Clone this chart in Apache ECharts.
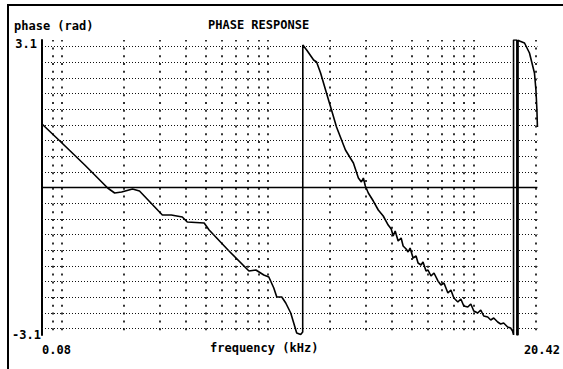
<!DOCTYPE html>
<html>
<head>
<meta charset="utf-8">
<script src="https://cdn.jsdelivr.net/npm/echarts@6/dist/echarts.min.js"></script>
<style>
  html, body { margin: 0; padding: 0; background: #fff; }
  #chart { width: 563px; height: 369px; }
</style>
</head>
<body>
<div id="chart"></div>
<script>
// ---- data ----
const chartTitle = 'PHASE RESPONSE';
const yAxisTitle = 'phase (rad)';
const xAxisTitle = 'frequency (kHz)';

const xMin = 0.08, xMax = 20.42;          // kHz
const yMin = -Math.PI, yMax = Math.PI;    // rad
const xTickLabels = ['0.08', '20.42'];
const yTickLabels = ['-3.1', '3.1'];

// vertical (log) grid lines, kHz
const freqGrid = [0.09, 0.1, 0.2, 0.3, 0.4, 0.5, 0.6, 0.7, 0.8, 0.9,
                  1, 2, 3, 4, 5, 6, 7, 8, 9, 10, 20];
// horizontal grid lines, rad (steps of 1/3 rad)
const phaseGrid = [-3, -2.667, -2.333, -2, -1.667, -1.333, -1, -0.667, -0.333,
                   0.333, 0.667, 1, 1.333, 1.667, 2, 2.333, 2.667, 3];

const freqKHz = [
  0.08, 0.0977, 0.1291, 0.1668, 0.1803, 0.1949, 0.2203, 0.2381, 0.3075, 0.340,
  0.3843, 0.4062, 0.4908, 0.5189, 0.648, 0.8099, 0.8754, 0.9566, 1.0117, 1.0696,
  1.1059, 1.1694, 1.2226, 1.2927, 1.3366, 1.3819, 1.4448, 1.478, 1.480, 1.545,
  1.670, 1.726, 1.805, 1.973, 2.040, 2.157, 2.384, 2.606, 2.755, 2.849,
  2.913, 2.978, 3.079, 3.256, 3.442, 3.638, 3.846, 3.978, 4.066, 4.158,
  4.299, 4.445, 4.545, 4.700, 4.806, 4.914, 5.080, 5.253, 5.371, 5.554,
  5.678, 5.871, 6.003, 6.207, 6.418, 6.710, 6.940, 7.176, 7.501, 7.755,
  8.018, 8.384, 8.666, 8.962, 9.37, 9.689, 10.02, 10.47, 10.83, 11.20,
  11.71, 12.11, 12.52, 13.09, 13.53, 13.99, 14.63, 15.12, 15.46, 15.63,
  15.63, 16.22, 16.22, 16.44, 16.44, 16.71, 17.67, 18.68, 19.75, 20.08,
  20.30, 20.42
];
const phaseRad = [
  1.352, 0.990, 0.479, -0.011, -0.117, -0.096, -0.032, -0.075, -0.586, -0.586,
  -0.628, -0.735, -0.756, -0.905, -1.352, -1.778, -1.757, -1.864, -1.906, -2.141,
  -2.332, -2.332, -2.460, -2.673, -2.886, -3.099, -3.130, -3.078, 3.035, 2.929,
  2.716, 2.673, 2.439, 1.864, 1.651, 1.289, 0.799, 0.522, 0.202, 0.117,
  0.202, 0.032, -0.117, -0.288, -0.479, -0.607, -0.799, -0.884, -1.033, -0.927,
  -1.140, -1.076, -1.246, -1.310, -1.374, -1.289, -1.502, -1.459, -1.608, -1.651,
  -1.587, -1.778, -1.757, -1.885, -1.821, -1.991, -2.077, -2.034, -2.247, -2.183,
  -2.354, -2.439, -2.375, -2.524, -2.545, -2.481, -2.630, -2.673, -2.609, -2.737,
  -2.758, -2.822, -2.780, -2.865, -2.907, -2.886, -2.971, -2.993, -3.056, -3.140,
  3.140, 3.140, -3.140, -3.140, 3.140, 3.120, 3.078, 2.865, 2.439, 2.077,
  1.651, 1.289
];

// ---- chart ----
const FONT = 'DejaVu Sans Mono';
const near = (a, b) => Math.abs(a - b) <= Math.abs(b) * 1e-3 + 1e-9;

const chart = echarts.init(document.getElementById('chart'), null, { renderer: 'svg' });

const txt = { fontFamily: FONT, fontWeight: 'bold', fontSize: 12, color: '#000' };

chart.setOption({
  animation: false,
  backgroundColor: '#fff',
  title: [
    { text: chartTitle, left: 208, top: 19, padding: 0, textStyle: txt },
    { text: yAxisTitle, left: 14, top: 20, padding: 0, textStyle: txt },
    { text: xAxisTitle, left: 210, top: 342, padding: 0, textStyle: txt }
  ],
  graphic: [
    { type: 'line', shape: { x1: 7, y1: 5, x2: 563, y2: 5 }, style: { stroke: '#000', lineWidth: 2 } },
    { type: 'line', shape: { x1: 8, y1: 5, x2: 8, y2: 369 }, style: { stroke: '#000', lineWidth: 2 } }
  ],
  grid: { left: 42, right: 23, top: 40, bottom: 34, containLabel: false },
  xAxis: {
    type: 'log', logBase: 10, min: xMin, max: xMax,
    axisLine: { show: false }, axisTick: { show: false }, splitLine: { show: false },
    axisLabel: {
      show: true, showMinLabel: true, showMaxLabel: true,
      alignMinLabel: 'left', alignMaxLabel: 'center',
      margin: 9, ...txt,
      formatter: v => near(v, xMin) ? '{lo|' + xTickLabels[0] + '}' :
                      (near(v, xMax) ? '{hi|' + xTickLabels[1] + '}' : ''),
      rich: {
        lo: { ...txt, padding: [0, 0, 0, 0] },
        hi: { ...txt, padding: [0, 0, 0, 9] }
      }
    }
  },
  yAxis: {
    type: 'value', min: yMin, max: yMax,
    axisLine: { show: true, lineStyle: { color: '#000', width: 2 } },
    axisTick: { show: false }, splitLine: { show: false },
    axisLabel: {
      show: true, showMinLabel: true, showMaxLabel: true, margin: 1, ...txt,
      formatter: v => near(v, yMin) ? '{lo|' + yTickLabels[0] + '}' :
                      (near(v, yMax) ? '{hi|' + yTickLabels[1] + '}' : ''),
      rich: {
        lo: { ...txt, padding: [0, 0, 0, 0] },
        hi: { ...txt, padding: [7, 4, 0, 0] }
      }
    }
  },
  series: [
    {
      type: 'line', data: [], silent: true, z: 1,
      markLine: {
        silent: true, symbol: 'none', animation: false, label: { show: false },
        lineStyle: { color: '#111', width: 1, type: [1, 2] },
        data: phaseGrid.map(v => ({ yAxis: v }))
      }
    },
    {
      type: 'line', data: [], silent: true, z: 1,
      markLine: {
        silent: true, symbol: 'none', animation: false, label: { show: false },
        lineStyle: { color: '#000', width: 1.6, type: [2, 5.8], dashOffset: 3 },
        data: freqGrid.map(v => ({ xAxis: v }))
      }
    },
    {
      type: 'line', data: [], silent: true, z: 2,
      markLine: {
        silent: true, symbol: 'none', animation: false, label: { show: false },
        lineStyle: { color: '#000', width: 1.4, type: 'solid' },
        data: [{ yAxis: 0 }]
      }
    },
    {
      name: 'phase', type: 'line', z: 3,
      data: freqKHz.map((f, i) => [f, phaseRad[i]]),
      showSymbol: false, symbol: 'none', smooth: false, clip: true,
      lineStyle: { color: '#000', width: 1.6 }
    }
  ]
});
</script>
</body>
</html>
